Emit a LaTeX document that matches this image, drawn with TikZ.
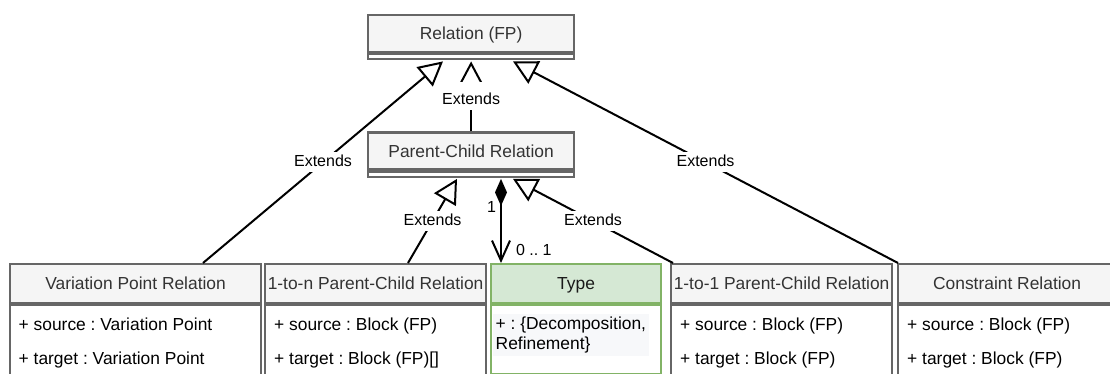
\documentclass[tikz,border=0pt]{standalone}
\usepackage{fontspec}
\setmainfont{Liberation Sans}
\usetikzlibrary{arrows.meta,calc}

\definecolor{umlstroke}{HTML}{666666}
\definecolor{umlfill}{HTML}{F5F5F5}
\definecolor{umltext}{HTML}{333333}
\definecolor{typestroke}{HTML}{82B366}
\definecolor{typefill}{HTML}{D5E8D4}
\definecolor{notebg}{HTML}{F7F8FA}

\newcommand\classfont{\fontsize{17.4}{20}\selectfont\frenchspacing}
\newcommand\edgefont{\fontsize{16}{19}\selectfont\frenchspacing}

\begin{document}
\begin{tikzpicture}[x=1pt,y=-1pt,
  classhead/.style={draw=umlstroke, fill=umlfill, line width=2.2pt, text=umltext,
    font=\classfont, inner sep=0pt, text height=12.4pt, text depth=0pt, anchor=north west},
  classbody/.style={draw=umlstroke, fill=white, line width=2.2pt, inner sep=0pt, anchor=north west},
  typehead/.style={classhead, draw=typestroke, fill=typefill, text=black!90},
  typebody/.style={classbody, draw=typestroke},
  attr/.style={font=\classfont, inner sep=0pt, anchor=base west},
  link/.style={line width=2pt, black},
  extends/.style={link, -{Triangle[open, length=24pt, width=25pt]}},
  lbl/.style={font=\edgefont, fill=white, inner xsep=2pt, inner ysep=3pt,
    text height=11.5pt, text depth=3pt},
  mult/.style={font=\edgefont, inner sep=2pt},
]
\useasboundingbox (0,0) rectangle (1110,374);
\clip (0,0) rectangle (1110,374);

% abstract base classes
\node[classhead, minimum width=206pt, minimum height=37pt] (rel) at (367,14) {Relation (FP)};
\node[classbody, minimum width=206pt, minimum height=5pt] (relc) at (rel.south west) {};

\node[classhead, minimum width=206pt, minimum height=37pt] (pc) at (367,131.5) {Parent-Child Relation};
\node[classbody, minimum width=206pt, minimum height=5pt] (pcc) at (pc.south west) {};

% concrete relation classes
\node[classhead, minimum width=251pt, minimum height=39pt] (vpr) at (9,263) {Variation Point Relation};
\node[classbody, minimum width=251pt, minimum height=120pt] (vprb) at (vpr.south west) {};
\node[attr] (vpr1) at ($(vprb.north west)+(9.5,26)$) {+ source : Variation Point};
\node[attr] (vpr2) at ($(vprb.north west)+(9.5,60)$) {+ target : Variation Point};

\node[classhead, minimum width=221pt, minimum height=39pt] (ton) at (264,263) {1-to-n Parent-Child Relation};
\node[classbody, minimum width=221pt, minimum height=120pt] (tonb) at (ton.south west) {};
\node[attr] (ton1) at ($(tonb.north west)+(10,26)$) {+ source : Block (FP)};
\node[attr] (ton2) at ($(tonb.north west)+(10,60)$) {+ target : Block (FP)[]};

\node[typehead, minimum width=170pt, minimum height=39pt] (type) at (490,263) {Type};
\node[typebody, minimum width=170pt, minimum height=69pt] (typeb) at (type.south west) {};
\node[font=\classfont, fill=notebg, inner sep=2.5pt, align=left, anchor=north west]
  (type1) at ($(typeb.north west)+(3,10)$) {+ : \{Decomposition,\\Refinement\}};

\node[classhead, minimum width=221pt, minimum height=39pt] (too) at (670,263) {1-to-1 Parent-Child Relation};
\node[classbody, minimum width=221pt, minimum height=120pt] (toob) at (too.south west) {};
\node[attr] (too1) at ($(toob.north west)+(10,26)$) {+ source : Block (FP)};
\node[attr] (too2) at ($(toob.north west)+(10,60)$) {+ target : Block (FP)};

\node[classhead, minimum width=218pt, minimum height=39pt] (cr) at (897,263) {Constraint Relation};
\node[classbody, minimum width=218pt, minimum height=120pt] (crb) at (cr.south west) {};
\node[attr] (cr1) at ($(crb.north west)+(10,26)$) {+ source : Block (FP)};
\node[attr] (cr2) at ($(crb.north west)+(10,60)$) {+ target : Block (FP)};

% generalisations
\draw[extends] ($(vpr.north west)+(194,0)$) -- node[lbl] {Extends} ($(relc.south west)+(76,1)$);
\draw[extends] (pc.north) -- node[lbl, text height=19pt] {Extends} ($(relc.south)+(0,1)$);
\draw[extends] ($(cr.north west)+(1,0)$) -- node[lbl] {Extends} ($(relc.south west)+(146,1)$);
\draw[extends] ($(ton.north west)+(144,0)$) -- node[lbl] {Extends} ($(pcc.south west)+(90,1)$);
\draw[extends] ($(too.north west)+(3,0)$) -- node[lbl] {Extends} ($(pcc.south west)+(146,1)$);

% composition to the type
\draw[link, {Diamond[length=27pt, width=12pt]}-{Straight Barb[length=20pt, width=18pt]}]
  ($(pcc.south west)+(134,1)$) --
  node[mult, pos=0.33, anchor=east, xshift=-2pt] {1}
  node[mult, pos=0.84, anchor=west, xshift=12pt] {0 .. 1}
  ($(type.north west)+(11,0)$);
\end{tikzpicture}
\end{document}
